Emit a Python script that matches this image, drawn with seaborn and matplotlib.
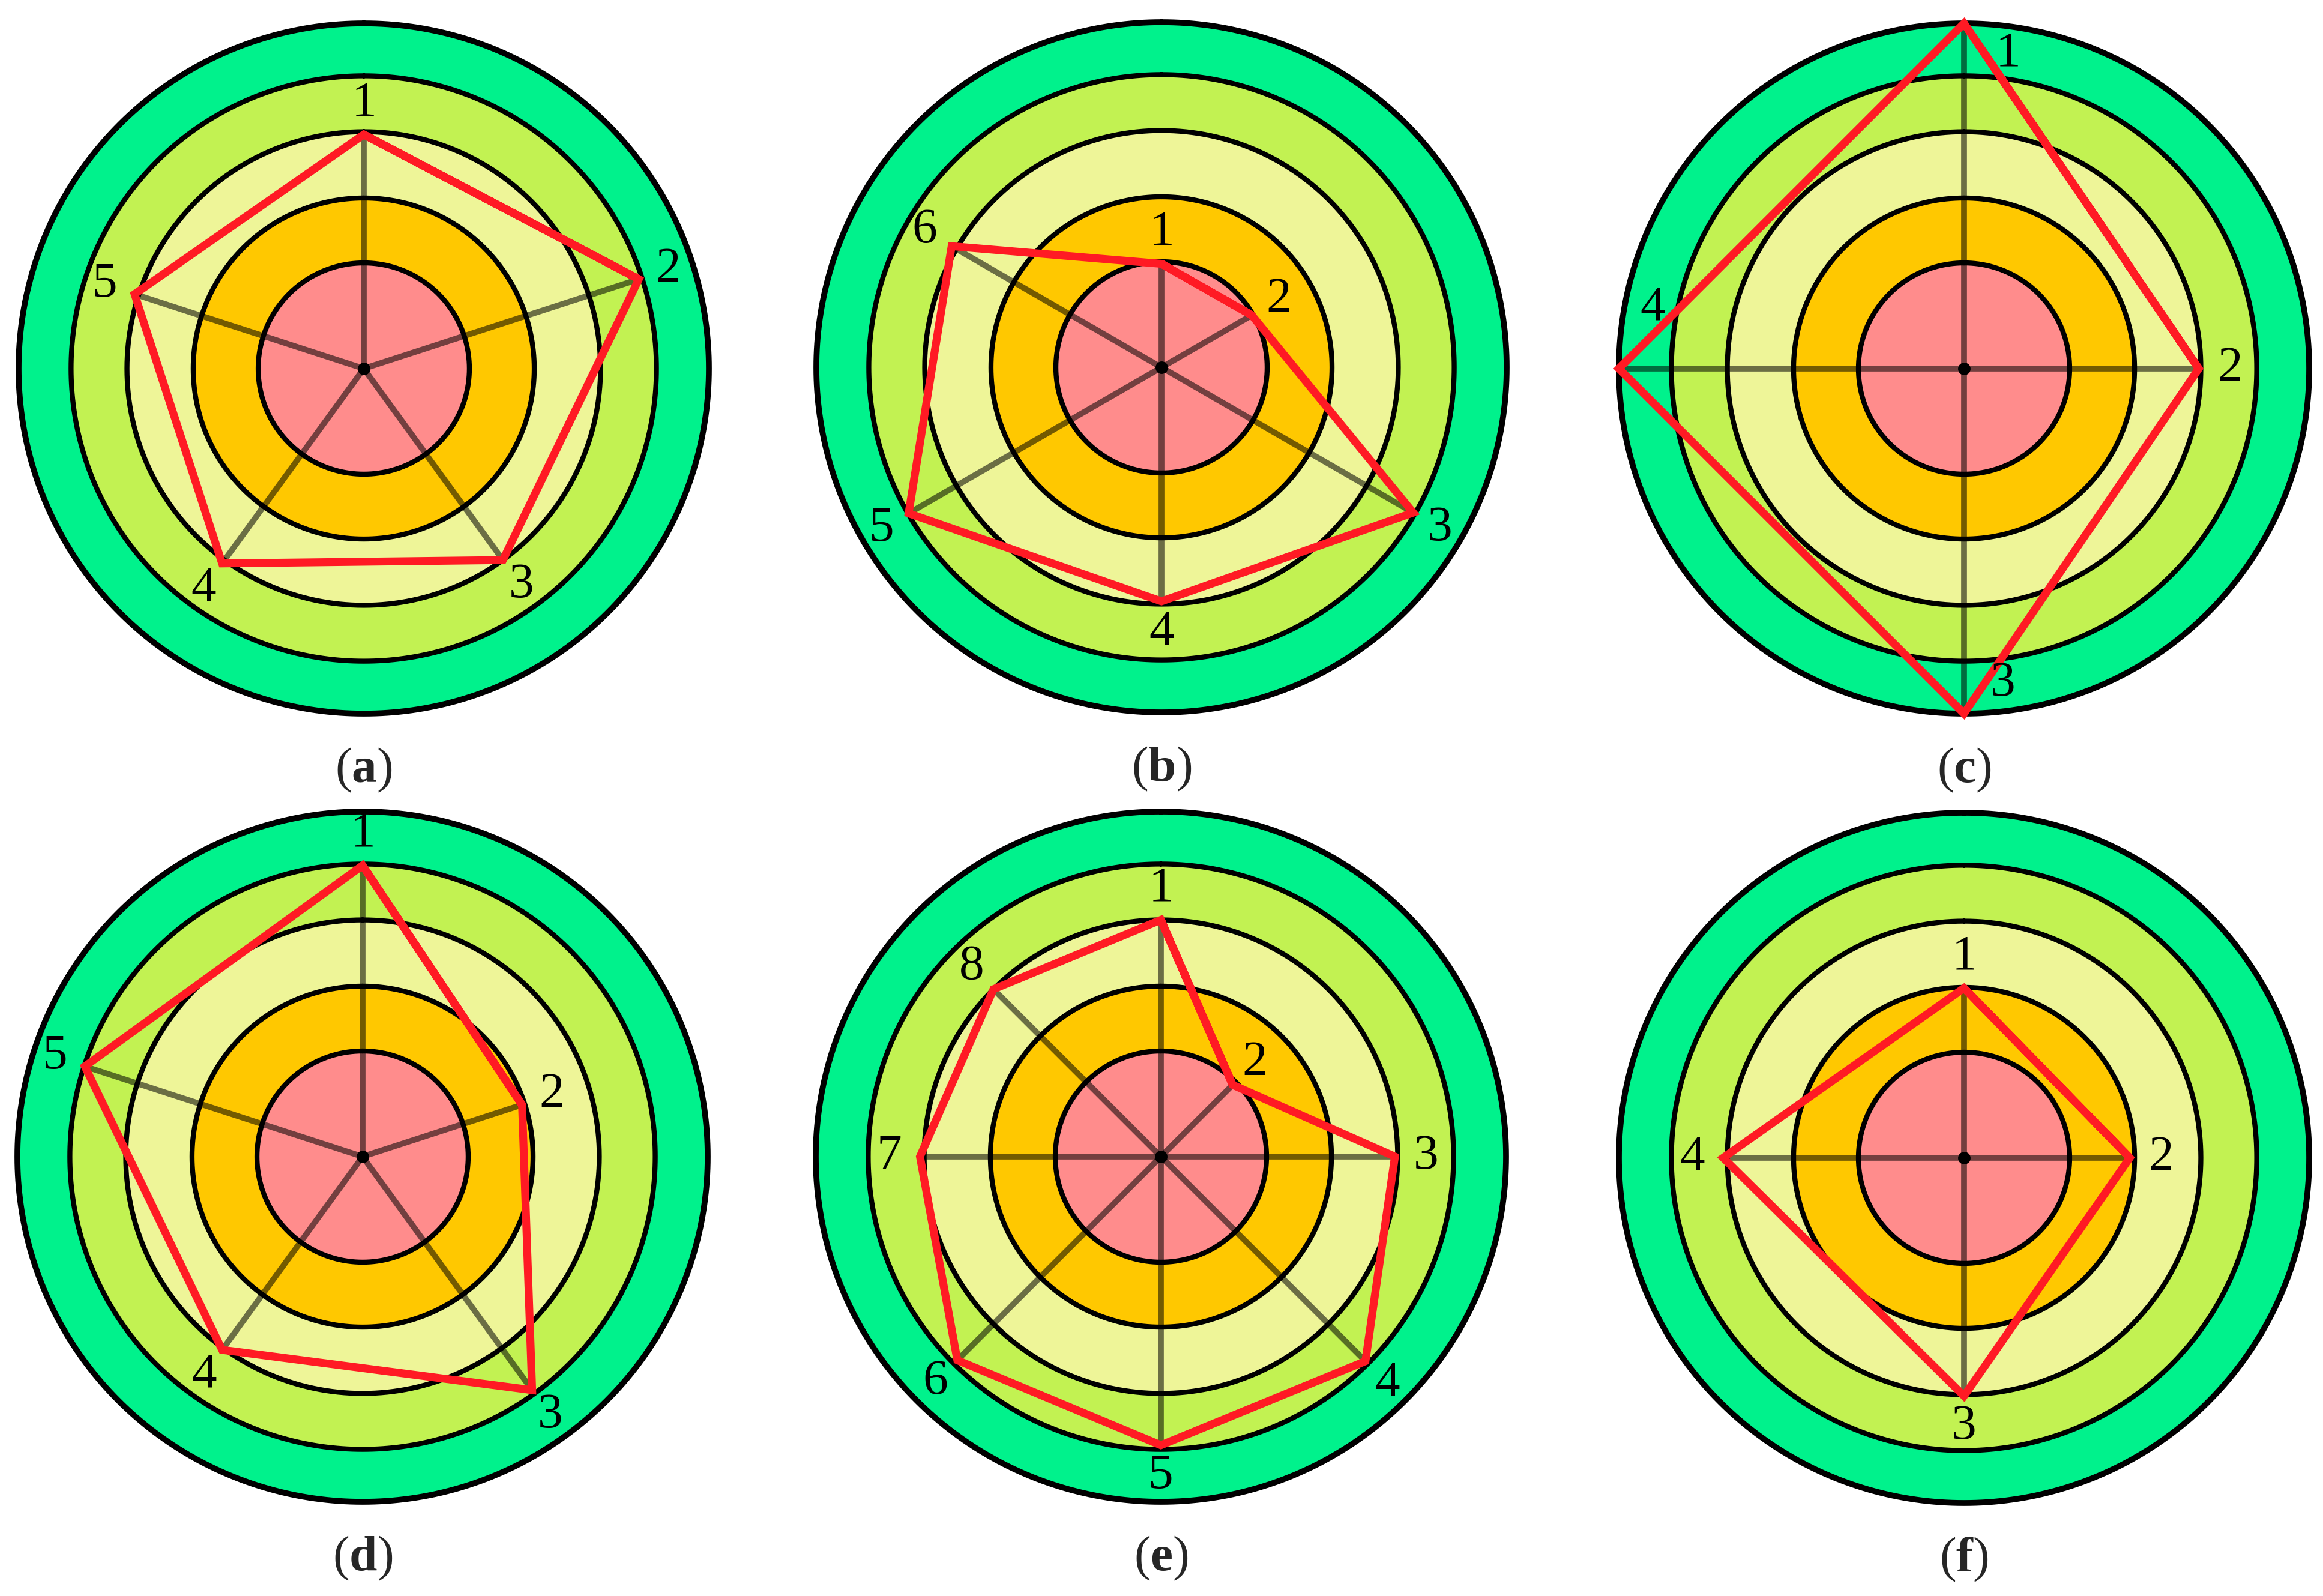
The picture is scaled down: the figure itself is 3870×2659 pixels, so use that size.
import numpy as np
import pandas as pd
import matplotlib
matplotlib.use("Agg")
import matplotlib.pyplot as plt
import seaborn as sns

# ring outer edges (inner -> outer) and their fill colours
ring_edges = [1.53, 2.47, 3.43, 4.24, 5.0]
ring_colors = ["#ff8c8c", "#ffc800", "#eef598", "#c2f252", "#00f28c"]

# values per indicator (same scale as ring_edges)
values_a = [3.39, 4.19, 3.43, 3.49, 3.49]
values_b = [1.50, 1.51, 4.21, 3.39, 4.23, 3.51]
values_c = [5.0, 3.40, 5.0, 5.0]
values_d = [4.22, 2.43, 4.18, 3.46, 4.23]
values_e = [3.43, 1.47, 3.39, 4.19, 4.18, 4.17, 3.49, 3.43]
values_f = [2.46, 2.40, 3.45, 3.49]

panel_letters = ["a", "b", "c", "d", "e", "f"]

sns.set_theme(style="white")
plt.rcParams["font.family"] = ["Liberation Serif", "DejaVu Serif"]
plt.rcParams["mathtext.fontset"] = "custom"
plt.rcParams["mathtext.rm"] = "Liberation Serif"
plt.rcParams["mathtext.bf"] = "Liberation Serif:bold"

W, H = 3870, 2659
fig = plt.figure(figsize=(W / 100, H / 100), dpi=100)

R_MAX = 5.3
OUTER_PX = 575
centers = [(606, 614), (1935, 612), (3272, 614),
           (604, 1927), (1934, 1927), (3272, 1929)]
# angular nudges (deg) for labels of points sitting on the outer rim
nudges = {"c": [8, 0, -7, 11]}


def draw_panel(ax, values, nudge=None):
    n = len(values)
    theta = np.linspace(0, 2 * np.pi, n, endpoint=False)
    ax.set_theta_zero_location("N")
    ax.set_theta_direction(-1)

    circle = np.linspace(0, 2 * np.pi, 721)
    inner = 0
    for edge, col in zip(ring_edges, ring_colors):
        ax.fill_between(circle, inner, edge, color=col, lw=0, zorder=1)
        inner = edge
    for i, edge in enumerate(ring_edges):
        ax.plot(circle, np.full_like(circle, edge), color="black",
                linewidth=7.0 if i == len(ring_edges) - 1 else 6.0,
                zorder=2, clip_on=False)

    # spokes from centre to each point
    for t, v in zip(theta, values):
        ax.plot([t, t], [0, v], color="black", alpha=0.55, linewidth=7.0,
                solid_capstyle="butt", zorder=3)

    # closed red polygon (first two points repeated so every corner is joined)
    df = pd.DataFrame({
        "theta": np.concatenate([theta, theta[:2] + 2 * np.pi]),
        "value": list(values) + list(values[:2]),
    })
    sns.lineplot(data=df, x="theta", y="value", sort=False, estimator=None,
                 color="#ff1a24", linewidth=9.5, ax=ax, zorder=4,
                 solid_joinstyle="miter", solid_capstyle="butt")
    ax.plot([0], [0], "o", color="black", ms=14, zorder=5)

    for i, (t, v) in enumerate(zip(theta, values)):
        if v >= 4.9:
            r_lab = 4.6
        else:
            r_lab = v + 0.45
        dt = np.deg2rad(nudge[i]) if nudge else 0
        ax.text(t + dt, r_lab, str(i + 1), ha="center", va="center",
                fontsize=60, color="black", zorder=6)

    ax.set_ylim(0, R_MAX)
    ax.set_xlabel("")
    ax.set_ylabel("")
    ax.set_axis_off()


all_values = [values_a, values_b, values_c, values_d, values_e, values_f]
r_ax = OUTER_PX * R_MAX / ring_edges[-1]
for letter, vals, (cx, cy) in zip(panel_letters, all_values, centers):
    ax = fig.add_axes([(cx - r_ax) / W, 1 - (cy + r_ax) / H,
                       2 * r_ax / W, 2 * r_ax / H], projection="polar")
    draw_panel(ax, vals, nudges.get(letter))
    cap_y = cy + 669
    fig.text(cx / W, 1 - cap_y / H, r"($\mathbf{" + letter + r"}$)",
             ha="center", va="center", fontsize=60)

fig.savefig("out.png", dpi=100, facecolor="white")
